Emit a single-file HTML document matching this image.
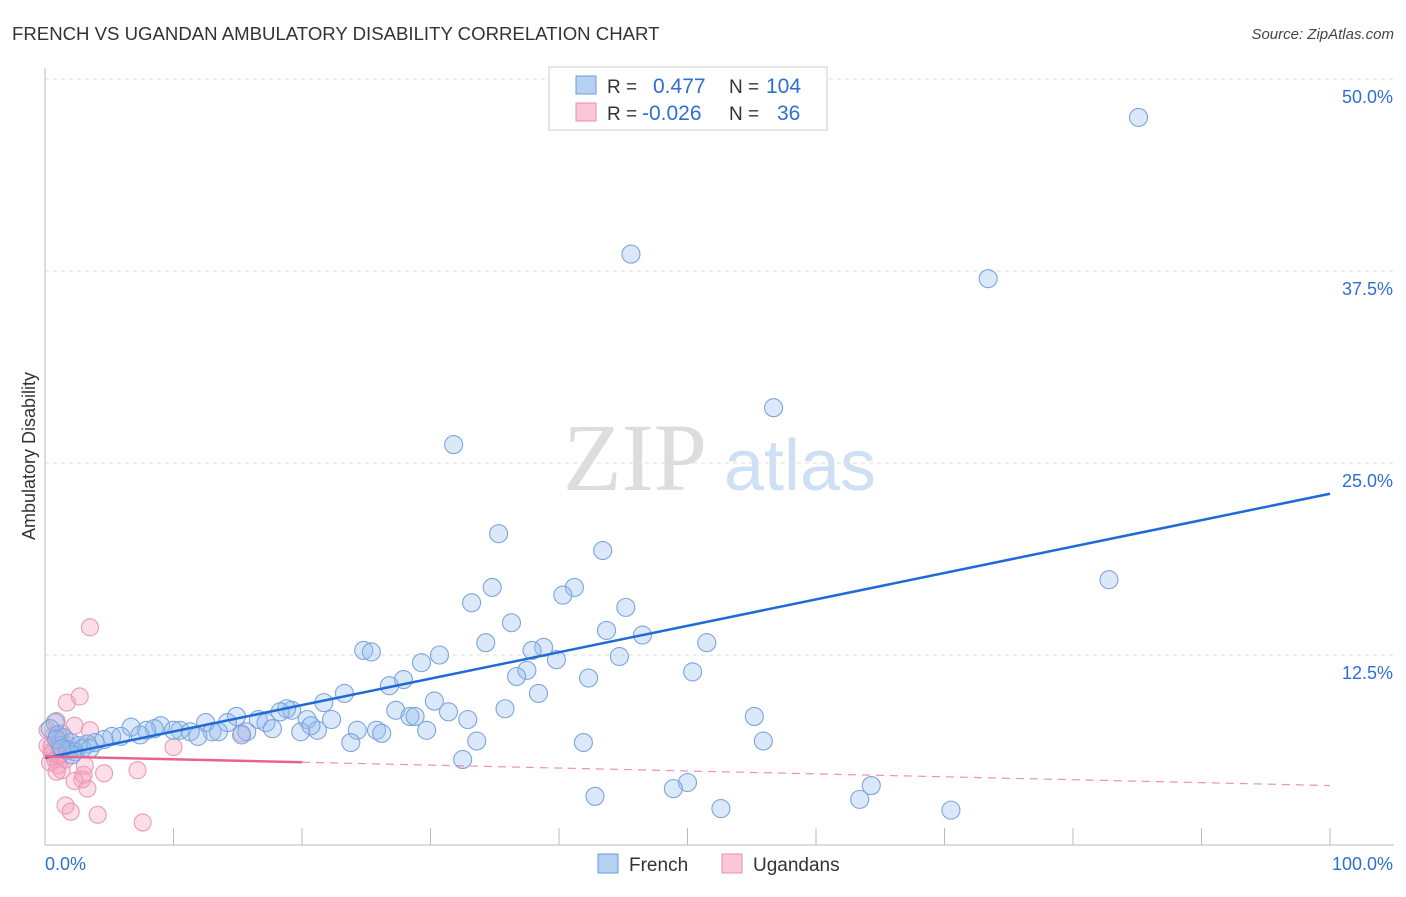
<!DOCTYPE html>
<html><head><meta charset="utf-8"><style>
body{margin:0;background:#fff;font-family:"Liberation Sans",sans-serif;}
svg text{font-family:"Liberation Sans",sans-serif;}
</style></head><body>
<svg id="chart" width="1406" height="892" xmlns="http://www.w3.org/2000/svg">
<text x="12" y="40" font-size="18.6" fill="#333">FRENCH VS UGANDAN AMBULATORY DISABILITY CORRELATION CHART</text>
<text x="1394" y="39" font-size="15" fill="#444" text-anchor="end" font-style="italic">Source: ZipAtlas.com</text>
<text x="35" y="456" font-size="18" fill="#333" text-anchor="middle" transform="rotate(-90 35 456)">Ambulatory Disability</text>
<g>
<text x="635" y="490" font-size="96" fill="#ddd" text-anchor="middle" font-family="Liberation Serif" style="font-family:'Liberation Serif',serif">ZIP</text>
<text x="800" y="490" font-size="72" fill="#cfe0f5" text-anchor="middle">atlas</text>
</g>
<g id="grid"></g>
<g id="axes"></g>
<g id="marks"></g>
<g>
<rect x="549" y="67" width="278" height="63" fill="#fff" stroke="#ccc"/>
<rect x="576" y="76" width="20" height="18" fill="#b6d0f2" stroke="#6d9ad8"/>
<rect x="576" y="103" width="20" height="18" fill="#f9c7d6" stroke="#e98fab"/>
<text x="607" y="93" font-size="19" fill="#333">R =</text>
<text x="653" y="93" font-size="21" fill="#2e6fd1">0.477</text>
<text x="729" y="93" font-size="19" fill="#333">N =</text>
<text x="766" y="93" font-size="21" fill="#2e6fd1">104</text>
<text x="607" y="120" font-size="19" fill="#333">R =</text>
<text x="642" y="120" font-size="21" fill="#2e6fd1">-0.026</text>
<text x="729" y="120" font-size="19" fill="#333">N =</text>
<text x="777" y="120" font-size="21" fill="#2e6fd1">36</text>
</g>
<g>
<rect x="598" y="854" width="20" height="19" fill="#b6d0f2" stroke="#6d9ad8"/>
<text x="629" y="871" font-size="19" fill="#333">French</text>
<rect x="722" y="854" width="20" height="19" fill="#f9c7d6" stroke="#e98fab"/>
<text x="753" y="871" font-size="19" fill="#333">Ugandans</text>
</g>
</svg>
<script>
const frenchX=[85.1,45.6,73.4,56.7,31.8,35.3,43.4,82.8,41.2,34.8,40.3,33.2,45.2,36.3,43.7,46.5,34.3,51.5,38.8,37.9,24.8,25.4,30.7,39.8,44.7,29.3,37.5,50.4,36.7,42.3,27.9,26.8,23.3,38.4,21.7,30.3,27.3,19.2,18.8,35.8,31.4,28.4,28.8,55.2,14.9,22.3,32.9,18.3,16.6,20.4,14.2,17.2,12.5,9.0,6.7,8.5,7.9,10.5,10.0,11.3,21.2,24.3,25.8,29.7,15.7,13.0,17.7,19.9,20.7,26.2,13.5,11.9,5.2,5.9,4.6,15.3,3.9,7.4,23.8,33.6,41.9,55.9,3.3,0.8,0.4,1.0,1.5,2.0,2.6,1.2,1.8,2.3,2.9,3.5,2.1,32.5,50.0,48.9,64.3,63.4,42.8,52.6,70.5,0.9,1.3];
const frenchY=[47.5,38.6,37.0,28.6,26.2,20.4,19.3,17.4,16.9,16.9,16.4,15.9,15.6,14.6,14.1,13.8,13.3,13.3,13.0,12.8,12.8,12.7,12.5,12.2,12.4,12.0,11.5,11.4,11.1,11.0,10.9,10.5,10.0,10.0,9.4,9.5,8.9,8.9,9.0,9.0,8.8,8.5,8.5,8.5,8.5,8.3,8.3,8.8,8.3,8.3,8.1,8.1,8.1,7.9,7.8,7.7,7.6,7.6,7.6,7.5,7.6,7.6,7.6,7.6,7.5,7.5,7.7,7.5,7.9,7.4,7.5,7.2,7.2,7.2,7.0,7.3,6.8,7.3,6.8,6.9,6.8,6.9,6.7,8.1,7.7,7.3,7.1,6.8,6.6,6.6,6.3,6.2,6.4,6.4,6.0,5.7,4.2,3.8,4.0,3.1,3.3,2.5,2.4,7.0,6.4];
const ugX=[3.5,2.7,1.7,0.9,2.3,3.5,1.3,1.0,0.5,10.0,15.3,0.5,1.1,0.8,0.4,1.6,1.0,1.3,0.9,4.6,7.2,3.0,2.9,2.3,3.3,1.6,2.0,4.1,7.6,0.6,0.2,1.9,1.2,3.1,0.2,0.7];
const ugY=[14.3,9.8,9.4,8.2,7.9,7.6,7.4,6.8,6.6,6.5,7.4,6.2,5.9,5.7,5.5,5.7,5.3,5.0,4.9,4.8,5.0,4.7,4.4,4.3,3.8,2.7,2.3,2.1,1.6,6.1,6.6,6.6,7.0,5.3,7.6,7.3];
const frenchTrend=[5.8,23.0];
const ugTrend=[5.9,4.0];
const yTicks=[12.5,25.0,37.5,50.0];
const xTicks=[0,10,20,30,40,50,60,70,80,90,100];
const X0=45,X1=1330,Y0=847,YS=15.36;
const sx=v=>X0+(X1-X0)*v/100, sy=v=>Y0-v*YS;
const NS="http://www.w3.org/2000/svg";
function mk(tag,attrs,parent){const e=document.createElementNS(NS,tag);for(const k in attrs)e.setAttribute(k,attrs[k]);parent.appendChild(e);return e;}
const grid=document.getElementById('grid'),axes=document.getElementById('axes'),marks=document.getElementById('marks');
const topLine=mk('line',{x1:45,x2:1394,y1:79,y2:79,stroke:'#ddd','stroke-dasharray':'4,4'},grid);


yTicks.forEach(t=>{
 const l=mk('line',{x1:45,x2:1394,y1:sy(t),y2:sy(t),stroke:'#ddd','stroke-dasharray':'4,4'},grid);
 
 
 const tx=mk('text',{x:1393,y:sy(t)+24,'font-size':18,fill:'#2e6fd1','text-anchor':'end'},axes);
 tx.textContent=t.toFixed(1)+'%';
 
 
});
const ax=mk('line',{x1:45,x2:45,y1:68,y2:845,stroke:'#bbb'},axes);


const bx=mk('line',{x1:45,x2:1394,y1:845,y2:845,stroke:'#bbb'},axes);


xTicks.forEach(t=>{
 const l=mk('line',{x1:sx(t),x2:sx(t),y1:828,y2:845,stroke:'#bbb'},axes);
 
 
});
[[0,'0.0%','start',45],[100,'100.0%','end',1393]].forEach(([v,s,a,x])=>{
 const tx=mk('text',{x:x,y:870,'font-size':18,fill:'#2e6fd1','text-anchor':a},axes);
 tx.textContent=s;
 
 
});
ugX.forEach((x,i)=>{
 const c=mk('circle',{cx:sx(x),cy:sy(ugY[i]),r:8.5,fill:'rgba(244,160,188,0.35)',stroke:'#ec9bb4','stroke-width':1.1},marks);
 
 
});
frenchX.forEach((x,i)=>{
 const c=mk('circle',{cx:sx(x),cy:sy(frenchY[i]),r:9,fill:'rgba(150,190,238,0.35)',stroke:'#7ba5de','stroke-width':1.1},marks);
 
 
});
const fl=mk('line',{x1:sx(0),y1:sy(frenchTrend[0]),x2:sx(100),y2:sy(frenchTrend[1]),stroke:'#1f6ad6','stroke-width':2.5},marks);


const ugAt=x=>ugTrend[0]+(ugTrend[1]-ugTrend[0])*x/100;
const pl=mk('line',{x1:sx(0),y1:sy(ugAt(0)),x2:sx(20),y2:sy(ugAt(20)),stroke:'#e8628e','stroke-width':2.5},marks);


const pd=mk('line',{x1:sx(20),y1:sy(ugAt(20)),x2:sx(100),y2:sy(ugAt(100)),stroke:'#e8628e','stroke-width':1.2,'stroke-dasharray':'8,6',opacity:0.7},marks);


</script>
</body></html>
